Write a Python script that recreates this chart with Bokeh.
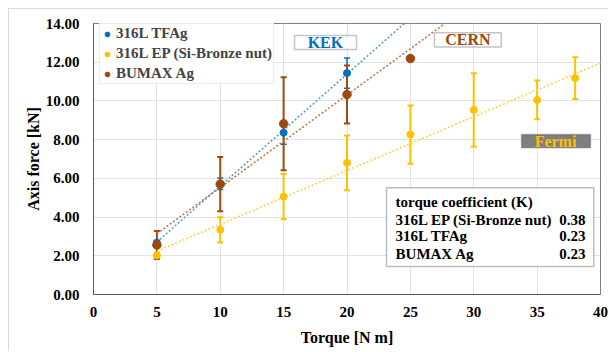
import numpy as np
from bokeh.plotting import figure
from bokeh.models import (ColumnDataSource, Whisker, TeeHead, Legend, LegendItem,
                          Label, BoxAnnotation, FixedTicker, NumeralTickFormatter, Range1d)
from bokeh.embed import file_html
from bokeh.resources import INLINE

# ---- data ----
tfag_x = [5, 10, 15, 20]
tfag_y = [2.68, 5.72, 8.36, 11.44]
tfag_err = [0.10, 0.30, 0.60, 0.78]

ep_x = [5, 10, 15, 20, 25, 30, 35, 38]
ep_y = [2.01, 3.34, 5.06, 6.80, 8.26, 9.53, 10.05, 11.18]
ep_err = [0.15, 0.65, 1.17, 1.42, 1.50, 1.90, 1.00, 1.08]

bumax_x = [5, 10, 15, 20, 25]
bumax_y = [2.56, 5.70, 8.82, 10.33, 12.19]
bumax_err = [0.72, 1.40, 2.40, 1.50, 0.0]

x_ticks = [0, 5, 10, 15, 20, 25, 30, 35, 40]
y_ticks = [0, 2, 4, 6, 8, 10, 12, 14]

k_title = "torque coefficient (K)"
k_names = ["316L EP (Si-Bronze nut)", "316L TFAg", "BUMAX Ag"]
k_values = ["0.38", "0.23", "0.23"]

FONT = "Liberation Serif"
BLUE, YELLOW, BROWN = "#0070c0", "#ffc000", "#9e480e"
BLUE_T, YELLOW_T, BROWN_T = "#5b9bd5", "#ffd34d", "#c07a4a"

p = figure(width=600, height=343, output_backend="svg", toolbar_location=None,
           x_range=Range1d(0, 40), y_range=Range1d(0, 14),
           min_border_left=84, min_border_right=9, min_border_top=14, min_border_bottom=58)
p.styles = {"margin-left": "8px", "margin-top": "8px",
            "border-top": "1px solid #d9d9d9", "border-left": "1px solid #d9d9d9"}
p.outline_line_color = "#808080"
p.outline_line_width = 1
p.background_fill_color = "white"

p.xaxis.ticker = FixedTicker(ticks=x_ticks)
p.yaxis.ticker = FixedTicker(ticks=y_ticks)
p.yaxis.formatter = NumeralTickFormatter(format="0.00")
for ax in (p.xaxis, p.yaxis):
    ax.major_label_text_font = FONT
    ax.major_label_text_font_style = "bold"
    ax.major_label_text_font_size = "15px"
    ax.major_label_text_color = "black"
    ax.axis_label_text_font = FONT
    ax.axis_label_text_font_style = "bold"
    ax.axis_label_text_font_size = "16px"
    ax.axis_label_text_color = "black"
    ax.major_tick_line_color = None
    ax.major_tick_out = 0
    ax.major_tick_in = 0
    ax.minor_tick_line_color = None
    ax.minor_tick_out = 0
    ax.axis_line_color = "#595959"
p.xaxis.axis_label = "Torque [N m]"
p.yaxis.axis_label = "Axis force [kN]"
p.xaxis.major_label_standoff = 12
p.yaxis.major_label_standoff = 14
p.xaxis.axis_label_standoff = 9
p.yaxis.axis_label_standoff = 1
p.grid.grid_line_color = "#e3e3e3"
p.grid.grid_line_width = 1

series = [
    ("316L TFAg", tfag_x, tfag_y, tfag_err, BLUE, BLUE_T, 7, 1.5),
    ("316L EP (Si-Bronze nut)", ep_x, ep_y, ep_err, YELLOW, YELLOW_T, 7, 2),
    ("BUMAX Ag", bumax_x, bumax_y, bumax_err, BROWN, BROWN_T, 8.5, 2),
]

# trendlines (linear least-squares fit of each series)
for name, xs, ys, errs, col, tcol, sz, lw in series:
    coef = np.polyfit(xs, ys, 1)
    tx = [min(xs), 40]
    ty = list(np.polyval(coef, tx))
    p.line(tx, ty, line_color=tcol, line_width=1.6, line_dash="2 2")

items = []
for name, xs, ys, errs, col, tcol, sz, lw in series:
    bx = [x for x, e in zip(xs, errs) if e > 0]
    up = [y + e for y, e in zip(ys, errs) if e > 0]
    lo = [y - e for y, e in zip(ys, errs) if e > 0]
    wsrc = ColumnDataSource(dict(base=bx, upper=up, lower=lo))
    w = Whisker(source=wsrc, base="base", upper="upper", lower="lower",
                line_color=col, line_width=lw,
                upper_head=TeeHead(size=6, line_color=col, line_width=lw),
                lower_head=TeeHead(size=6, line_color=col, line_width=lw))
    p.add_layout(w)
    src = ColumnDataSource(dict(x=xs, y=ys))
    r = p.scatter("x", "y", source=src, size=sz, fill_color=col, line_color=col)
    items.append(LegendItem(label=name, renderers=[r]))

legend = Legend(items=items, location=(6, 210))
legend.label_text_font = FONT
legend.label_text_font_style = "bold"
legend.label_text_font_size = "15px"
legend.label_height = 16
legend.glyph_height = 16
legend.glyph_width = 12
legend.label_standoff = 3
legend.spacing = 3
legend.padding = 1
legend.margin = 0
legend.border_line_color = "#d9d9d9"
legend.border_line_width = 1
legend.background_fill_color = "white"
legend.background_fill_alpha = 1
p.add_layout(legend)

# site labels
boxes = [
    ("KEK", 15.86, 20.75, 13.38, 12.66, 18.3, 13.02, "white", BLUE),
    ("CERN", 26.90, 32.17, 13.52, 12.78, 29.54, 13.15, "white", BROWN),
    ("Fermi", 33.77, 39.21, 8.27, 7.58, 36.45, 7.92, "#7f7f7f", YELLOW),
]
for txt, l, r_, t, b, cx, cy, fill, tc in boxes:
    p.add_layout(BoxAnnotation(left=l, right=r_, top=t, bottom=b, fill_color=fill,
                               fill_alpha=1, line_color="#404040", line_width=1.5,
                               level="annotation"))
    p.add_layout(Label(x=cx, y=cy, text=txt, text_align="center", text_baseline="middle",
                       text_font=FONT, text_font_style="bold", text_font_size="16px",
                       text_color=tc))

# torque coefficient table
p.add_layout(BoxAnnotation(left=23.12, right=39.47, top=5.51, bottom=1.45, fill_color="white",
                           fill_alpha=1, line_color="#262626", line_width=1.5, level="annotation"))
row_y = [3.86, 3.00, 2.10]
p.add_layout(Label(x=23.83, y=4.77, text=k_title, text_align="left", text_baseline="middle",
                   text_font=FONT, text_font_style="bold", text_font_size="15px", text_color="black"))
for nm, val, yy in zip(k_names, k_values, row_y):
    p.add_layout(Label(x=23.83, y=yy, text=nm, text_align="left", text_baseline="middle",
                       text_font=FONT, text_font_style="bold", text_font_size="15px",
                       text_color="black"))
    p.add_layout(Label(x=38.82, y=yy, text=val, text_align="right", text_baseline="middle",
                       text_font=FONT, text_font_style="bold", text_font_size="15px",
                       text_color="black"))

open("out.html", "w").write(file_html(p, INLINE))
